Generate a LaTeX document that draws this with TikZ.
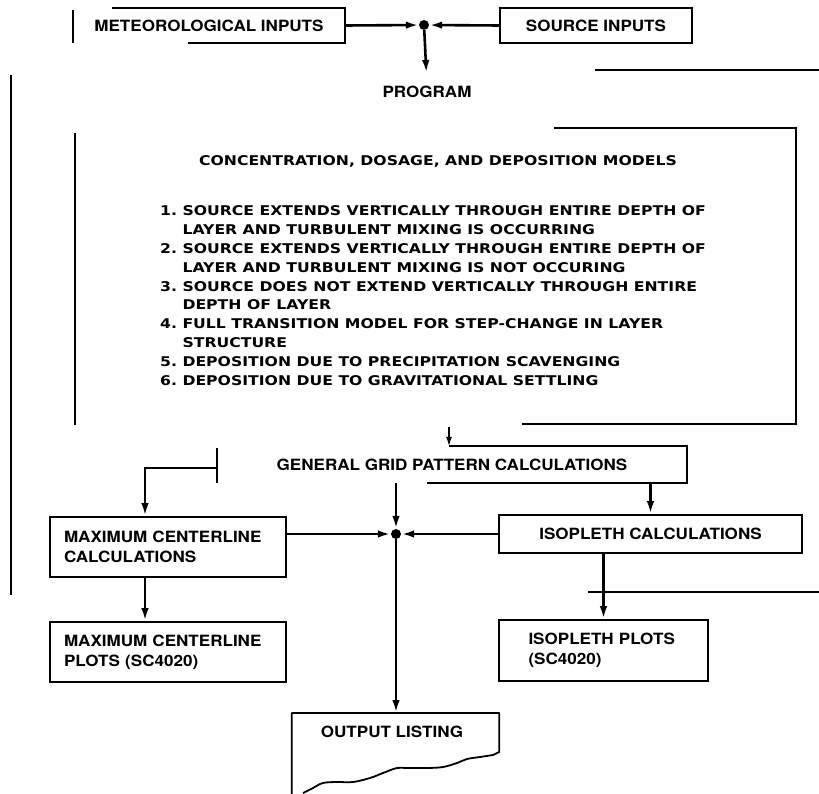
\documentclass[tikz,border=0pt]{standalone}
\usepackage{fontspec}
\usetikzlibrary{arrows.meta,calc}
\newfontfamily\lblfont{TeX Gyre Heros}[FakeStretch=1.1]
\newfontfamily\lstfont{DejaVu Sans}[FakeStretch=1.17]
\begin{document}
\begin{tikzpicture}[x=1pt,y=-1pt,
  lbl/.style={font=\lblfont\bfseries\fontsize{15.5}{20}\selectfont, inner sep=0pt},
  lst/.style={font=\lstfont\bfseries\fontsize{13.4}{18.8}\selectfont, inner sep=0pt},
  boxed/.style={draw, line width=1.8pt},
  frag/.style={line width=1.8pt},
  conn/.style={line width=2.6pt, -{Latex[length=13pt,width=7.5pt]}},
  smallconn/.style={line width=1.8pt, -{Latex[length=10pt,width=6pt]}},
  jdot/.style={circle, fill, inner sep=0pt, minimum size=10pt}]
\useasboundingbox (0,0) rectangle (819,794);

% top inputs
\node[lbl, minimum width=272pt, minimum height=35pt] (met) at (209,25.5) {METEOROLOGICAL INPUTS};
\draw[frag] (73,10) -- (73,43);
\draw[frag] (112,8) -- (345,8) -- (345,43) -- (188,43);
\node[lbl, boxed, minimum width=192pt, minimum height=35pt] (src) at (596,25.5) {SOURCE INPUTS};
\node[jdot] (j1) at (424,25) {};
\draw[conn] (met.east) -- (j1);
\draw[conn] (src.west) -- (j1);
\node[lbl] (prog) at (427,92) {PROGRAM};
\draw[conn, shorten >=13pt] (j1) -- (prog.north);

% outer program box (visible fragments)
\draw[frag] (11,75) -- (11,595);
\draw[frag] (595,70) -- (819,70);
\draw[frag] (588,592) -- (819,592);

% models box (visible fragments)
\draw[frag] (75,133) -- (75,425);
\draw[frag] (554,128) -- (796,128) -- (796,424) -- (522,424);
\node[lst] (head) at (438,161.5) {CONCENTRATION, DOSAGE, AND DEPOSITION MODELS};
\def\ind{\phantom{1.\ }}
\node[lst, anchor=base west] (l1) at (160,215.8) {1.\ SOURCE EXTENDS VERTICALLY THROUGH ENTIRE DEPTH OF};
\node[lst, anchor=base west] (l2) at (160,234.6) {\ind LAYER AND TURBULENT MIXING IS OCCURRING};
\node[lst, anchor=base west] (l3) at (160,253.4) {2.\ SOURCE EXTENDS VERTICALLY THROUGH ENTIRE DEPTH OF};
\node[lst, anchor=base west] (l4) at (160,272.2) {\ind LAYER AND TURBULENT MIXING IS NOT OCCURING};
\node[lst, anchor=base west] (l5) at (160,291.0) {3.\ SOURCE DOES NOT EXTEND VERTICALLY THROUGH ENTIRE};
\node[lst, anchor=base west] (l6) at (160,309.8) {\ind DEPTH OF LAYER};
\node[lst, anchor=base west] (l7) at (160,328.6) {4.\ FULL TRANSITION MODEL FOR STEP-CHANGE IN LAYER};
\node[lst, anchor=base west] (l8) at (160,347.4) {\ind STRUCTURE};
\node[lst, anchor=base west] (l9) at (160,366.2) {5.\ DEPOSITION DUE TO PRECIPITATION SCAVENGING};
\node[lst, anchor=base west] (l10) at (160,385.0) {6.\ DEPOSITION DUE TO GRAVITATIONAL SETTLING};

% general grid pattern
\node[lbl, minimum width=470pt, minimum height=36pt] (ggpc) at (452,465) {GENERAL GRID PATTERN CALCULATIONS};
\draw[frag] (449,446) -- (687,446) -- (687,483) -- (427,483);
\draw[frag] (217,448) -- (217,483);
\coordinate (a0) at (449,427);
\draw[smallconn] (a0) -- (a0 |- ggpc.north);

% calculations
\node[lbl, boxed, minimum width=236pt, minimum height=60pt, text width=208pt, inner xsep=14pt, align=left] (mcc) at (168,547) {MAXIMUM CENTERLINE\\CALCULATIONS};
\node[lbl, boxed, minimum width=303pt, minimum height=38pt] (isc) at (650.5,534) {ISOPLETH CALCULATIONS};
\node[jdot] (j2) at (396,534) {};
\draw[conn] ([yshift=-3pt]ggpc.west) -| ([xshift=-23pt]mcc.north);
\draw[conn] (ggpc.south -| j2) -- (j2);
\draw[conn] (ggpc.south -| isc.north) -- (isc.north);
\draw[conn] (mcc.east |- j2) -- (j2);
\draw[conn] (isc.west) -- (j2);

% plots
\node[lbl, boxed, minimum width=236pt, minimum height=60pt, text width=208pt, inner xsep=14pt, align=left] (mcp) at (168,652) {MAXIMUM CENTERLINE\\PLOTS (SC4020)};
\node[lbl, boxed, minimum width=209pt, minimum height=61pt, text width=150pt, inner xsep=29.5pt, align=left] (isp) at (603.5,650.5) {ISOPLETH PLOTS\\(SC4020)};
\draw[conn] ([xshift=-23pt]mcc.south) -- ([xshift=-23pt]mcp.north);
\draw[conn] (isc.south -| isp.north) -- (isp.north);

% output listing (document shape)
\node[minimum width=207pt, minimum height=81pt, inner sep=0pt, anchor=north] (out) at (395.5,713) {};
\node[lbl] (outtxt) at (392,732) {OUTPUT LISTING};
\draw[frag, line join=round] (out.south west) -- (out.north west) -- (out.north east) -- ([yshift=-39pt]out.north east)
  -- (493,755)
  plot[smooth, tension=0.6] coordinates {(493,755) (480,757) (467,759) (457,763) (443,767) (427,768) (407,768) (397,768) (383,773) (370,778) (353,782) (337,782) (323,783) (313,788) (303,793)};
\draw[conn] (j2) -- (j2 |- out.north);
\end{tikzpicture}
\end{document}
